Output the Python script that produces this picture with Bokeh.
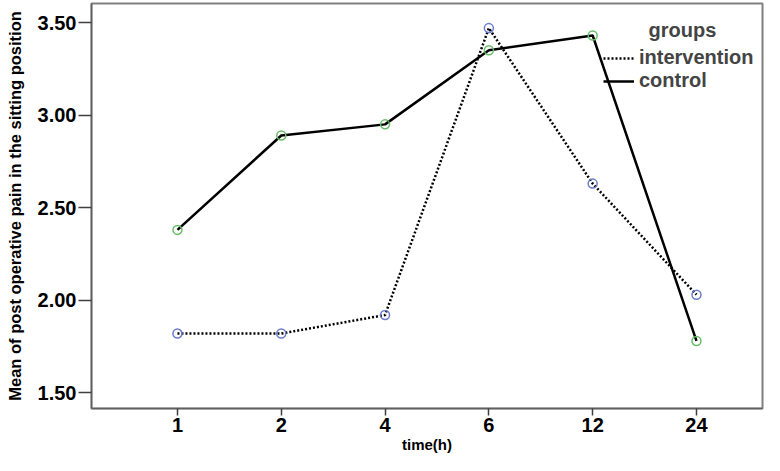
from bokeh.plotting import figure
from bokeh.models import FixedTicker, Range1d, Legend, LegendItem, Label, ColumnDataSource
from bokeh.embed import file_html
from bokeh.resources import INLINE

# ---- data ----
time_labels = ["1", "2", "4", "6", "12", "24"]
intervention = [1.82, 1.82, 1.92, 3.47, 2.63, 2.03]
control = [2.38, 2.89, 2.95, 3.35, 3.43, 1.78]
y_ticks = [1.5, 2.0, 2.5, 3.0, 3.5]

xpos = list(range(len(time_labels)))
src = ColumnDataSource(dict(x=xpos, intervention=intervention, control=control))

FONT = "Liberation Sans"

p = figure(width=764, height=455, output_backend="svg", toolbar_location=None,
           x_range=Range1d(-0.828, 5.636), y_range=Range1d(1.415, 3.603),
           min_border_left=91, min_border_right=2, min_border_top=3, min_border_bottom=47)
p.grid.visible = False
p.outline_line_color = "#808080"
p.outline_line_width = 2
p.background_fill_color = "white"
p.border_fill_color = "white"

r_int = p.line("x", "intervention", source=src, line_color="black", line_width=2.5, line_dash="2 2")
r_ctl = p.line("x", "control", source=src, line_color="black", line_width=2.5)
p.scatter("x", "intervention", source=src, size=9, fill_alpha=0, line_color="#6a7ccc", line_width=1.5)
p.scatter("x", "control", source=src, size=9, fill_alpha=0, line_color="#66bb66", line_width=1.5)

# axes
p.xaxis.ticker = FixedTicker(ticks=xpos)
p.xaxis.major_label_overrides = {i: t for i, t in enumerate(time_labels)}
p.yaxis.ticker = FixedTicker(ticks=y_ticks)
p.yaxis.major_label_overrides = {v: f"{v:.2f}" for v in y_ticks}
for ax in (p.xaxis[0], p.yaxis[0]):
    ax.axis_line_color = "#606060"
    ax.axis_line_width = 1.5
    ax.major_tick_line_color = "#404040"
    ax.major_tick_line_width = 1.5
    ax.major_tick_in = 0
    ax.minor_tick_line_color = None
    ax.major_label_text_font = FONT
    ax.major_label_text_font_style = "bold"
    ax.major_label_text_font_size = "20px"
    ax.major_label_text_color = "black"
    ax.axis_label_text_font = FONT
    ax.axis_label_text_font_style = "bold"
    ax.axis_label_text_color = "black"
p.xaxis.major_tick_out = 7
p.yaxis.major_tick_out = 13
p.xaxis.major_label_standoff = 2
p.yaxis.major_label_standoff = 2
p.xaxis.axis_label = "time(h)"
p.xaxis.axis_label_text_font_size = "15px"
p.xaxis.axis_label_standoff = 1
p.yaxis.axis_label = "Mean of post operative pain in the sitting position"
p.yaxis.axis_label_text_font_size = "16.5px"
p.yaxis.axis_label_standoff = 11

legend = Legend(items=[LegendItem(label="intervention", renderers=[r_int]),
                       LegendItem(label="control", renderers=[r_ctl])],
                location=(502, 306))
legend.label_text_font = FONT
legend.label_text_font_style = "bold"
legend.label_text_font_size = "20px"
legend.glyph_width = 31
legend.glyph_height = 20
legend.label_height = 20
legend.label_standoff = 5
legend.spacing = 0
legend.border_line_alpha = 0
legend.background_fill_alpha = 0
p.add_layout(legend)

p.add_layout(Label(x=4.865, y=3.462, text="groups", text_font=FONT, text_font_style="bold",
                   text_font_size="20px", text_align="center", text_baseline="middle"))

open("out.html", "w").write(file_html(p, INLINE))
